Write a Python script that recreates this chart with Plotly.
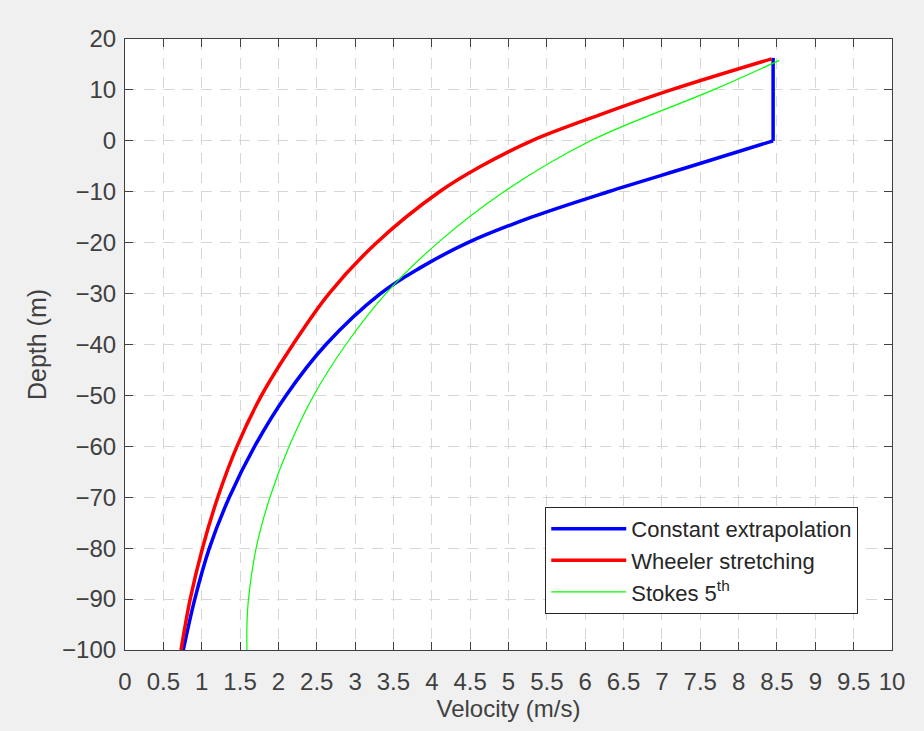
import plotly.graph_objects as go

# Constant extrapolation (blue): curve below the still-water level, then constant up to the crest
blue_depth = [-100, -90, -80, -70, -60, -50, -40, -30, -25, -20, -15, -10, -5, 0]
blue_vel = [0.76, 0.91, 1.10, 1.36, 1.69, 2.10, 2.62, 3.33, 3.84, 4.47, 5.30, 6.30, 7.38, 8.45]
blue_top_depth = [0, 16.3]
blue_top_vel = [8.45, 8.45]

# Wheeler stretching (red)
red_depth = [-100, -90, -80, -70, -60, -50, -40, -30, -20, -10, -5, 0, 5, 10, 16.1]
red_vel = [0.73, 0.85, 1.01, 1.21, 1.46, 1.78, 2.19, 2.66, 3.28, 4.10, 4.64, 5.30, 6.17, 7.12, 8.43]

# Stokes 5th (green)
green_depth = [-100, -95, -90, -80, -70, -60, -50, -40, -30, -20, -10, 0, 10, 15.8]
green_vel = [1.59, 1.59, 1.61, 1.71, 1.89, 2.14, 2.46, 2.88, 3.40, 4.08, 4.94, 6.07, 7.67, 8.53]

x_ticks = [i * 0.5 for i in range(21)]
x_ticklabels = ["0", "0.5", "1", "1.5", "2", "2.5", "3", "3.5", "4", "4.5", "5",
                "5.5", "6", "6.5", "7", "7.5", "8", "8.5", "9", "9.5", "10"]
y_ticks = list(range(-100, 21, 10))

FONT = "Liberation Sans, Arial, sans-serif"
TXT = "#404040"

fig = go.Figure()
fig.add_trace(go.Scatter(x=blue_vel, y=blue_depth, mode="lines", name="Constant extrapolation",
                         legendgroup="blue",
                         line=dict(color="#0000ff", width=3.5, shape="spline", smoothing=1.0)))
fig.add_trace(go.Scatter(x=blue_top_vel, y=blue_top_depth, mode="lines", name="Constant extrapolation",
                         legendgroup="blue", showlegend=False,
                         line=dict(color="#0000ff", width=3.5)))
fig.add_trace(go.Scatter(x=red_vel, y=red_depth, mode="lines", name="Wheeler stretching",
                         line=dict(color="#ff0000", width=3.5, shape="spline", smoothing=1.0)))
fig.add_trace(go.Scatter(x=green_vel, y=green_depth, mode="lines", name="Stokes 5<sup>th</sup>",
                         line=dict(color="#00ff00", width=1.2, shape="spline", smoothing=1.0)))

axis_common = dict(
    showline=True, linecolor="#404040", linewidth=1.2, mirror="ticks",
    ticks="inside", ticklen=8, tickcolor="#404040", tickwidth=1.2,
    showgrid=True, gridcolor="#d6d6d6", griddash="11px,8px", gridwidth=1,
    zeroline=False, tickfont=dict(family=FONT, size=24, color=TXT),
)

fig.update_xaxes(range=[0, 10], tickvals=x_ticks, ticktext=x_ticklabels, tickangle=0,
                 ticklabelstandoff=10,
                 title=dict(text="Velocity (m/s)", font=dict(family=FONT, size=24, color=TXT), standoff=6),
                 **axis_common)
fig.update_yaxes(range=[-100, 20], tickvals=y_ticks, ticklabelstandoff=3,
                 title=dict(text="Depth (m)", font=dict(family=FONT, size=25, color=TXT), standoff=8),
                 **axis_common)

fig.update_layout(
    width=924, height=731,
    margin=dict(l=125, r=32, t=39, b=81, autoexpand=False),
    paper_bgcolor="#f0f0f0", plot_bgcolor="#ffffff",
    font=dict(family=FONT, size=22, color="#262626"),
    legend=dict(x=0.956, y=0.059, xanchor="right", yanchor="bottom",
                bgcolor="#ffffff", bordercolor="#262626", borderwidth=1,
                font=dict(family=FONT, size=22, color="#262626"),
                itemwidth=75, tracegroupgap=0),
    showlegend=True,
)

fig.write_html("out.html")
